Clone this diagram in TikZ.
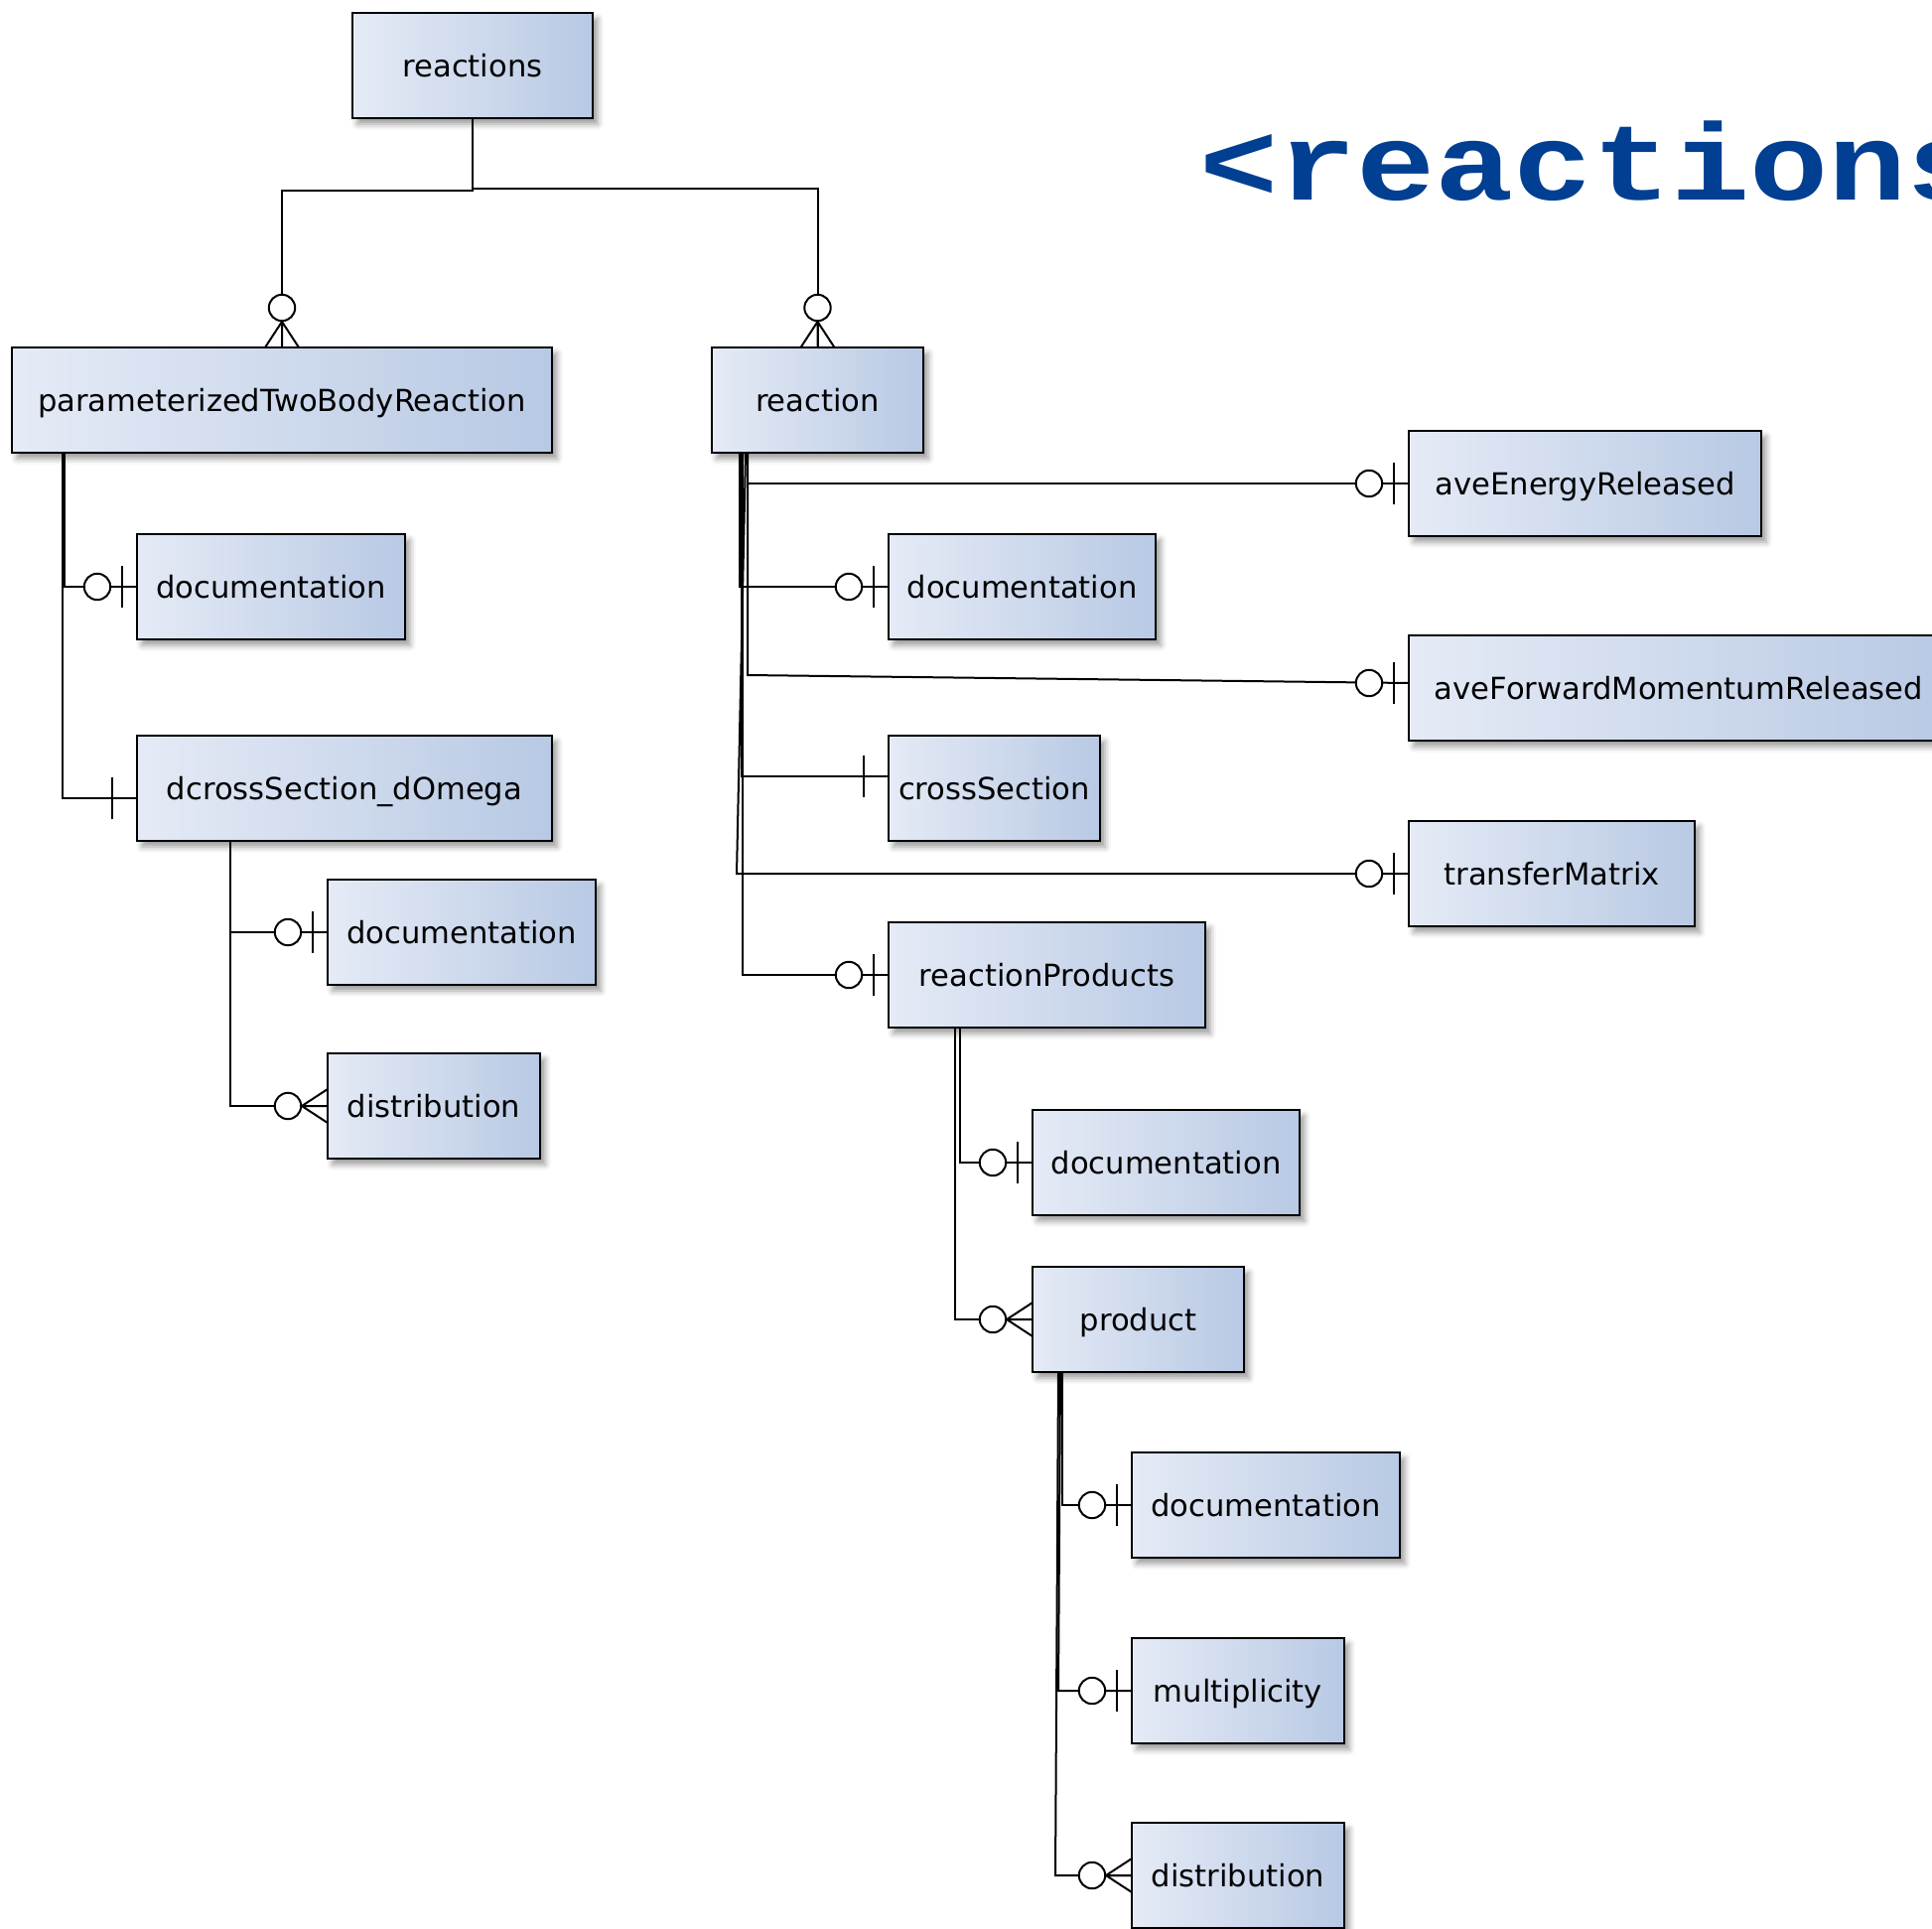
\documentclass[tikz,border=0pt]{standalone}
\usepackage{fontspec}
\usepackage{tikz}
\usepackage{xcolor}
\usetikzlibrary{positioning}
\usetikzlibrary{shadows.blur}

\newfontfamily\boxfont{DejaVu Sans}
\newfontfamily\titlefont{Liberation Mono}

\definecolor{boxleft}{RGB}{229,235,246}
\definecolor{boxright}{RGB}{184,201,228}
\definecolor{titleblue}{RGB}{0,63,145}

\begin{document}
\begin{tikzpicture}
[
line width = 1pt,
box-a/.style={draw, line width = 1.3pt, left color = boxleft, right color = boxright,
              minimum height = 53pt, inner sep = 0pt, outer sep = 0pt,
              text height = 11.6pt, text depth = 0pt,
              font = \boxfont\fontsize{15.3}{18}\selectfont,
              blur shadow = {shadow xshift = 2.5pt, shadow yshift = -3pt, shadow blur radius = 3pt}},
text-a/.style={inner sep = 0pt, outer sep = 0pt, titleblue,
               font = \titlefont\bfseries\fontsize{55}{60}\selectfont},
zero-one/.pic={
  \draw [fill = white] (-20pt,0) circle (6.6pt);
  \draw (-7.5pt,-10.5pt) -- (-7.5pt,10.5pt);
},
zero-many/.pic={
  \draw (-13pt,0) -- (0,8.5pt) (-13pt,0) -- (0,-8.5pt) (-13pt,0) -- (0,0);
  \draw [fill = white] (-20pt,0) circle (6.6pt);
},
one/.pic={
  \draw (-12.75pt,-10.5pt) -- (-12.75pt,10.5pt);
}
]
\path [clip] (0,0) rectangle (973pt,-971pt);
\useasboundingbox (0,0) rectangle (973pt,-971pt);

\node (title)     [text-a, anchor = base west] at (604pt,-101pt) {\scalebox{1.2}[1]{<reactions}};

\node (reactions) [box-a, anchor = north west, minimum width = 121pt] at (177.5pt,-6.5pt) {reactions};
\node (ptbr)      [box-a, anchor = north west, minimum width = 272pt] at (6pt,-175pt)      {parameterizedTwoBodyReaction};
\node (reac)      [box-a, anchor = north west, minimum width = 106.5pt] at (358.5pt,-175pt) {reaction};

\node (ptbr-doc)  [box-a, minimum width = 135pt,   below right =  41.0pt and  63.0pt of ptbr.south west] {documentation};
\node (dxs)       [box-a, minimum width = 209pt,   below right = 142.5pt and  63.0pt of ptbr.south west] {dcrossSection\_dOmega};
\node (dxs-doc)   [box-a, minimum width = 135pt,   below right =  19.5pt and  96.0pt of dxs.south west ] {documentation};
\node (dxs-dist)  [box-a, minimum width = 107pt,   below right = 107.0pt and  96.0pt of dxs.south west ] {distribution};

\node (reac-aer)  [box-a, minimum width = 177.5pt, below right =  42.0pt and 244.5pt of reac.north east] {aveEnergyReleased};
\node (reac-afmr) [box-a, minimum width = 272pt,   below right = 145.0pt and 244.5pt of reac.north east] {aveForwardMomentumReleased};
\node (reac-tm)   [box-a, minimum width = 144pt,   below right = 238.5pt and 244.5pt of reac.north east] {transferMatrix};
\node (reac-doc)  [box-a, minimum width = 134.5pt, below right =  41.0pt and  89.0pt of reac.south west] {documentation};
\node (reac-xs)   [box-a, minimum width = 106.5pt, below right = 142.5pt and  89.0pt of reac.south west] {crossSection};
\node (rp)        [box-a, minimum width = 159.5pt, below right = 236.5pt and  89.0pt of reac.south west] {reactionProducts};

\node (rp-doc)    [box-a, minimum width = 134.5pt, below right =  41.5pt and  72.5pt of rp.south west  ] {documentation};
\node (prod)      [box-a, minimum width = 106.5pt, below right = 120.5pt and  72.5pt of rp.south west  ] {product};

\node (prod-doc)  [box-a, minimum width = 135pt,   below right =  40.5pt and  50.0pt of prod.south west] {documentation};
\node (prod-mult) [box-a, minimum width = 107pt,   below right = 134.0pt and  50.0pt of prod.south west] {multiplicity};
\node (prod-dist) [box-a, minimum width = 107pt,   below right = 227.0pt and  50.0pt of prod.south west] {distribution};

% reactions
\draw (reactions.south) -- ++(0,-36.5pt) -| (ptbr.north);
\draw (reactions.south) -- ++(0,-35.5pt) -| (reac.north);
\pic [rotate = -90] at (ptbr.north) {zero-many};
\pic [rotate = -90] at (reac.north) {zero-many};

% parameterizedTwoBodyReaction
\draw ([xshift = 26.5pt]ptbr.south west) |- (ptbr-doc.west);
\draw ([xshift = 25.5pt]ptbr.south west) |- ([yshift = -5pt]dxs.west);
\pic at (ptbr-doc.west) {zero-one};
\pic at ([yshift = -5pt]dxs.west) {one};
\draw ([xshift = 47pt]dxs.south west) |- (dxs-doc.west);
\draw ([xshift = 47pt]dxs.south west) |- (dxs-dist.west);
\pic at (dxs-doc.west) {zero-one};
\pic at (dxs-dist.west) {zero-many};

% reaction
\draw ([xshift = 18pt]reac.south west) |- (reac-aer.west);
\draw ([xshift = 14pt]reac.south west) |- (reac-doc.west);
\draw ([xshift = 18pt]reac.south west) -- ++(0,-112pt) -- ([yshift = 2.5pt]reac-afmr.west);
\draw ([xshift = 15pt]reac.south west) |- ([yshift = 6pt]reac-xs.west);
\draw ([xshift = 17pt]reac.south west) -- ([xshift = 12.5pt]reac.south west |- reac-tm.west) -- (reac-tm.west);
\draw ([xshift = 15.5pt]reac.south west) |- (rp.west);
\pic at (reac-aer.west) {zero-one};
\pic at (reac-doc.west) {zero-one};
\pic at ([yshift = 2.5pt]reac-afmr.west) {zero-one};
\pic at ([yshift = 6pt]reac-xs.west) {one};
\pic at (reac-tm.west) {zero-one};
\pic at (rp.west) {zero-one};

% reactionProducts
\draw ([xshift = 36pt]rp.south west) |- (rp-doc.west);
\draw ([xshift = 33.5pt]rp.south west) |- (prod.west);
\pic at (rp-doc.west) {zero-one};
\pic at (prod.west) {zero-many};

% product
\draw ([xshift = 15pt]prod.south west) |- (prod-doc.west);
\draw ([xshift = 14pt]prod.south west) -- ([xshift = 13pt]prod.south west |- prod-mult.west) -- (prod-mult.west);
\draw ([xshift = 13pt]prod.south west) -- ([xshift = 11.5pt]prod.south west |- prod-dist.west) -- (prod-dist.west);
\pic at (prod-doc.west) {zero-one};
\pic at (prod-mult.west) {zero-one};
\pic at (prod-dist.west) {zero-many};
\end{tikzpicture}
\end{document}
